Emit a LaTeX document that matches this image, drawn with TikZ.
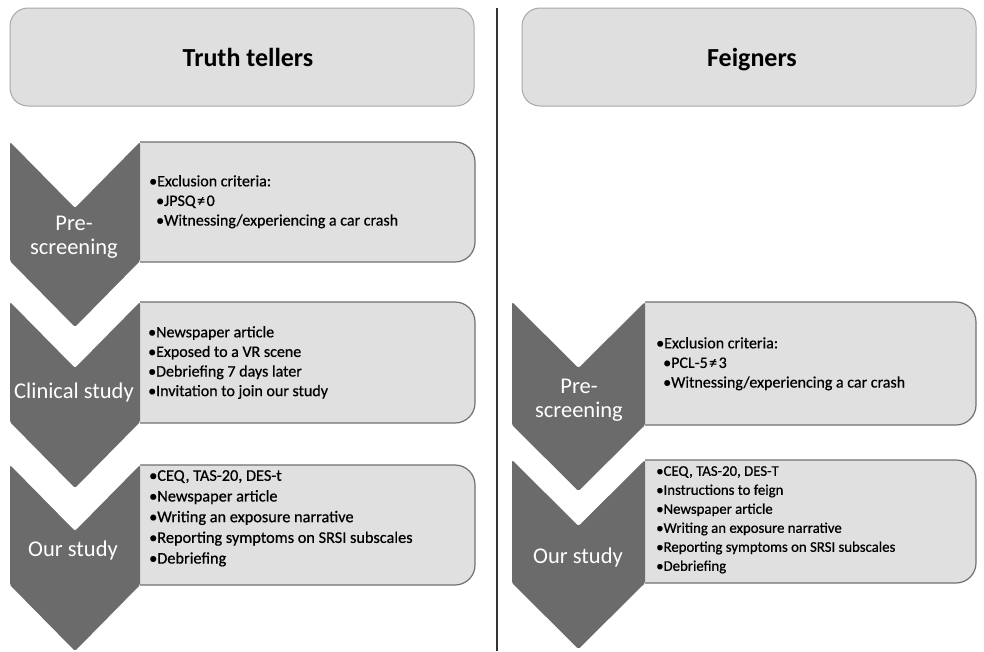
\documentclass[tikz,border=0pt]{standalone}
\usepackage{fontspec}
\setmainfont{Carlito}
\newfontfamily\bodyfont[FakeBold=0.6]{Carlito}
\definecolor{chev}{HTML}{6B6B6B}
\definecolor{boxfill}{HTML}{E0E0E0}
\definecolor{boxline}{HTML}{707070}
\definecolor{headfill}{HTML}{DFDFDF}
\definecolor{headline}{HTML}{A8A8A8}
\definecolor{divline}{HTML}{333333}
\newcommand{\bt}{\textbullet}
\newcommand{\chevshape}[5]{% L, T, W, H, D
  \fill[chev, rounded corners=1.5pt] (#1,#2) -- ({#1+#3/2},{#2+#5}) -- ({#1+#3},#2) -- ({#1+#3},{#2+#4}) -- ({#1+#3/2},{#2+#4+#5}) -- (#1,{#2+#4}) -- cycle;}
\newcommand{\contentbox}[4]{% x0, T, x1, B
  \begin{scope}
    \clip (#1,{#2-5}) rectangle ({#3+5},{#4+5});
    \filldraw[fill=boxfill, draw=boxline, line width=1.2pt, rounded corners=20pt] ({#1-30},#2) rectangle (#3,#4);
  \end{scope}}
\tikzset{
  headbox/.style={draw=headline, fill=headfill, line width=1pt, rounded corners=18pt, minimum width=464pt, minimum height=98pt, inner sep=0pt},
  headtext/.style={font=\fontsize{26}{30}\selectfont\bfseries, inner sep=0pt, anchor=base},
  body/.style={anchor=north west, inner sep=0pt, align=left, font=\bodyfont\fontsize{16}{19.6}\selectfont},
  chevlabel/.style={text=white, align=center, inner sep=0pt, font=\fontsize{22.5}{24}\selectfont},
  divider/.style={draw=divline, line width=1.4pt}
}
\begin{document}
\begin{tikzpicture}[x=1pt,y=-1pt]
\useasboundingbox (0,0) rectangle (984,651);
\fill[white] (0,0) rectangle (984,651);
% headers
\node[headbox] (thead) at (242,57) {};
\node[headbox, minimum width=454pt] (fhead) at (749,57) {};
\node[headtext] (ttext) at (248,66) {Truth tellers};
\node[headtext] (ftext) at (752,66) {Feigners};
% divider
\coordinate (dtop) at (497,8);
\coordinate (dbot) at (497,651);
\draw[divider] (dtop) -- (dbot);
% left content boxes
\contentbox{140}{142}{475}{262}
\contentbox{140}{302}{475}{423}
\contentbox{140}{465}{475}{585}
% right content boxes
\contentbox{645}{302}{976}{425}
\contentbox{645}{460}{976}{583}
% chevrons
\chevshape{10}{142}{130}{119}{66}
\chevshape{10}{302}{130}{120}{66}
\chevshape{10}{465}{130}{120}{66}
\chevshape{512}{302}{133}{123}{66}
\chevshape{512}{460}{133}{123}{66}
% chevron labels
\node[chevlabel] (l1) at (74,237) {Pre-\\screening};
\node[chevlabel] (l2) at (74,392) {Clinical study};
\node[chevlabel] (l3) at (73,550) {Our study};
\node[chevlabel] (r1) at (579,400) {Pre-\\screening};
\node[chevlabel] (r2) at (578,557) {Our study};
% box texts
\node[body] (t1) at (149,175) {\bt Exclusion criteria:\\\hspace*{7pt}\bt JPSQ\kern1.5pt≠\kern1.5pt0\\\hspace*{7pt}\bt Witnessing/experiencing a car crash};
\node[body] (t2) at (148,326) {\bt Newspaper article\\\bt Exposed to a VR scene\\\bt Debriefing 7 days later\\\bt Invitation to join our study};
\node[body, font=\bodyfont\fontsize{16.3}{20.7}\selectfont] (t3) at (149,470) {\bt CEQ, TAS-20, DES-t\\\bt Newspaper article\\\bt Writing an exposure narrative\\\bt Reporting symptoms on SRSI subscales\\\bt Debriefing};
\node[body] (t4) at (656,337) {\bt Exclusion criteria:\\\hspace*{7pt}\bt PCL-5\kern1.5pt≠\kern1.5pt3\\\hspace*{7pt}\bt Witnessing/experiencing a car crash};
\node[body, font=\bodyfont\fontsize{14.8}{19}\selectfont] (t5) at (656,466) {\bt CEQ, TAS-20, DES-T\\\bt Instructions to feign\\\bt Newspaper article\\\bt Writing an exposure narrative\\\bt Reporting symptoms on SRSI subscales\\\bt Debriefing};
\end{tikzpicture}
\end{document}
